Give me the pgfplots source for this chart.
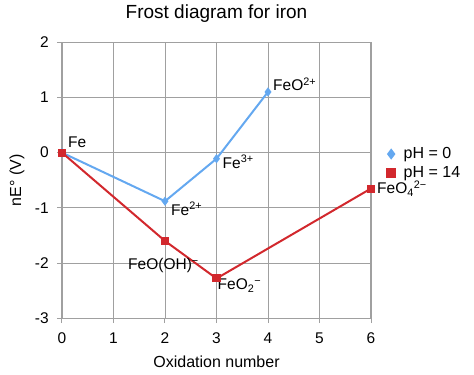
\documentclass[border=0pt]{standalone}
\usepackage{pgfplots}
\pgfplotsset{compat=1.18}
\usepackage{fontspec}
\setmainfont{Liberation Sans}
\definecolor{bl}{RGB}{100,168,240}
\definecolor{rd}{RGB}{210,40,45}
\definecolor{gr}{RGB}{160,160,160}
\begin{document}
\begin{tikzpicture}
\fontsize{15.5}{18}\selectfont
\begin{axis}[
  scale only axis, width=309pt, height=276pt,
  xmin=0, xmax=6, ymin=-3, ymax=2,
  xtick={0,1,...,6}, ytick={-3,-2,...,2},
  grid=major, major grid style={gr, line width=0.8pt},
  axis line style={gr, line width=1.2pt},
  tick align=outside, tick pos=left, major tick length=5pt,
  tick style={gr, line width=1pt},
  /pgf/number format/assume math mode=true,
  ticklabel style={font=\fontsize{15.5}{18}\selectfont},
  xticklabel style={yshift=-4pt},
  yticklabel style={xshift=-3pt},
  title={\fontsize{19}{22}\selectfont Frost diagram for iron},
  title style={yshift=8pt},
  xlabel={Oxidation number}, ylabel={nE° (V)},
  label style={font=\fontsize{16}{19}\selectfont},
  xlabel style={yshift=-2pt},
  ylabel style={yshift=0pt},
  legend style={draw=none, fill=none, at={(1.02,0.56)}, anchor=west,
    font=\fontsize{16}{19}\selectfont, row sep=2pt},
  legend image code/.code={\path[draw=none, fill=none] (0,0) -- (0.75cm,0);
    \path[#1, draw=none, mark size=4pt] plot[only marks] coordinates {(0.38cm,0cm)};},
  legend cell align=left,
  clip=false,
]
\addplot[bl, line width=2pt, mark=diamond*, mark size=3pt, mark options={solid, fill=bl}]
  coordinates {(0,0) (2,-0.88) (3,-0.11) (4,1.1)};
\addlegendentry{pH = 0}
\addplot[rd, line width=2pt, mark=square*, mark size=3pt, mark options={solid, fill=rd}]
  coordinates {(0,0) (2,-1.6) (3,-2.28) (6,-0.65)};
\addlegendentry{pH = 14}
\node[anchor=south west, inner sep=0pt] at (axis cs:0,0) [xshift=6pt, yshift=5pt] {Fe};
\node[anchor=north west, inner sep=0pt] at (axis cs:2,-0.88) [xshift=6pt, yshift=-1pt] {Fe\textsuperscript{2+}};
\node[anchor=west, inner sep=0pt] at (axis cs:3,-0.11) [xshift=6pt, yshift=-3pt] {Fe\textsuperscript{3+}};
\node[anchor=west, inner sep=0pt] at (axis cs:4,1.1) [xshift=5pt, yshift=8pt] {FeO\textsuperscript{2+}};
\node[anchor=east, inner sep=0pt] at (axis cs:2,-1.6) [xshift=34pt, yshift=-25pt] {FeO(OH)\textsuperscript{−}};
\node[anchor=west, inner sep=0pt] at (axis cs:3,-2.28) [xshift=1pt, yshift=-7pt] {FeO\textsubscript{2}\textsuperscript{−}};
\node[anchor=west, inner sep=0pt] at (axis cs:6,-0.65) [xshift=6pt, yshift=0pt] {FeO\textsubscript{4}\textsuperscript{2−}};
\end{axis}
\path ([shift={(-62pt,-56pt)}]current axis.south west) rectangle ([shift={(103pt,41pt)}]current axis.north east);
\end{tikzpicture}
\end{document}
